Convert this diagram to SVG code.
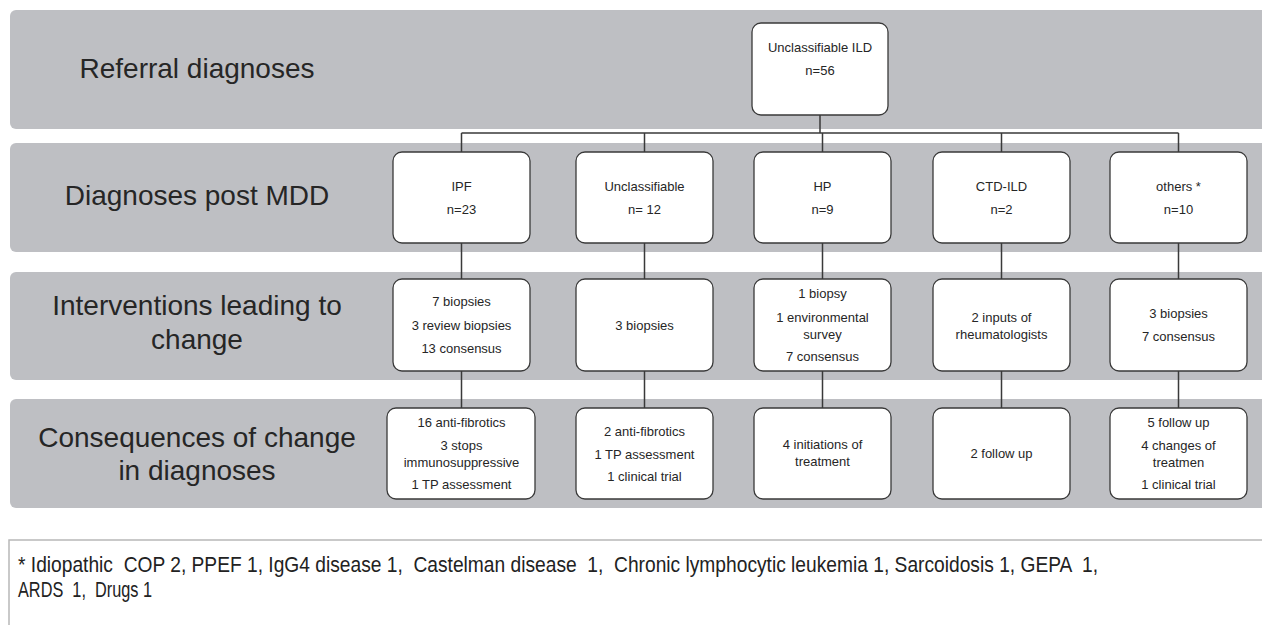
<svg xmlns="http://www.w3.org/2000/svg" width="1262" height="625" viewBox="0 0 1262 625">
<style>
.band{fill:#bebfc3;}
.node{fill:#ffffff;stroke:#3a3a3a;stroke-width:1.3;}
.lbl{font-family:"Liberation Sans",Arial,sans-serif;font-size:28px;fill:#262626;text-anchor:middle;}
.t{font-family:"Liberation Sans",Arial,sans-serif;font-size:13px;fill:#262626;text-anchor:middle;}
.conn{stroke:#3a3a3a;stroke-width:1.5;fill:none;}
.fn{font-family:"Liberation Sans",Arial,sans-serif;font-size:22px;fill:#222;white-space:pre;}
</style>
<rect width="1262" height="625" fill="#ffffff"/>
<g id="bands">
<rect class="band" x="10" y="10" width="1262" height="119" rx="6"/>
<rect class="band" x="10" y="143" width="1262" height="109" rx="6"/>
<rect class="band" x="10" y="272" width="1262" height="108" rx="6"/>
<rect class="band" x="10" y="399" width="1262" height="109" rx="6"/>
</g>
<g id="row-labels">
<text class="lbl" x="197" y="78">Referral diagnoses</text>
<text class="lbl" x="197" y="205">Diagnoses post MDD</text>
<text class="lbl" x="197" y="315">Interventions leading to</text>
<text class="lbl" x="197" y="349">change</text>
<text class="lbl" x="197" y="447">Consequences of change</text>
<text class="lbl" x="197" y="480">in diagnoses</text>
</g>
<g id="connectors">
<path class="conn" d="M820 115V133M461.5 133H1178.5M461.5 133V152M644.5 133V152M822.5 133V152M1001.5 133V152M1178.5 133V152"/>
<path class="conn" d="M461.5 243V279M644.5 243V279M822.5 243V279M1001.5 243V279M1178.5 243V279"/>
<path class="conn" d="M461.5 371V408M644.5 371V408M822.5 371V408M1001.5 371V408M1178.5 371V408"/>
</g>
<g id="n-root"><rect class="node" x="752" y="23" width="136" height="92" rx="9"/>
<text class="t" x="820" y="51.5">Unclassifiable ILD</text><text class="t" x="820" y="74.5">n=56</text></g>
<g id="n-ipf"><rect class="node" x="393" y="152" width="137" height="91" rx="9"/>
<text class="t" x="461.5" y="190.5">IPF</text><text class="t" x="461.5" y="213.5">n=23</text></g>
<g id="n-unclass"><rect class="node" x="576" y="152" width="137" height="91" rx="9"/>
<text class="t" x="644.5" y="190.5">Unclassifiable</text><text class="t" x="644.5" y="213.5">n= 12</text></g>
<g id="n-hp"><rect class="node" x="754" y="152" width="137" height="91" rx="9"/>
<text class="t" x="822.5" y="190.5">HP</text><text class="t" x="822.5" y="213.5">n=9</text></g>
<g id="n-ctd"><rect class="node" x="933" y="152" width="137" height="91" rx="9"/>
<text class="t" x="1001.5" y="190.5">CTD-ILD</text><text class="t" x="1001.5" y="213.5">n=2</text></g>
<g id="n-others"><rect class="node" x="1110" y="152" width="137" height="91" rx="9"/>
<text class="t" x="1178.5" y="190.5">others *</text><text class="t" x="1178.5" y="213.5">n=10</text></g>
<g id="i-ipf"><rect class="node" x="393" y="279" width="137" height="92" rx="9"/>
<text class="t" x="461.5" y="306">7 biopsies</text><text class="t" x="461.5" y="329.5">3 review biopsies</text><text class="t" x="461.5" y="352.5">13 consensus</text></g>
<g id="i-unclass"><rect class="node" x="576" y="279" width="137" height="92" rx="9"/>
<text class="t" x="644.5" y="329.5">3 biopsies</text></g>
<g id="i-hp"><rect class="node" x="754" y="279" width="137" height="92" rx="9"/>
<text class="t" x="822.5" y="298">1 biopsy</text><text class="t" x="822.5" y="321.5">1 environmental</text><text class="t" x="822.5" y="338.5">survey</text><text class="t" x="822.5" y="360.5">7 consensus</text></g>
<g id="i-ctd"><rect class="node" x="933" y="279" width="137" height="92" rx="9"/>
<text class="t" x="1001.5" y="321.5">2 inputs of</text><text class="t" x="1001.5" y="338.5">rheumatologists</text></g>
<g id="i-others"><rect class="node" x="1110" y="279" width="137" height="92" rx="9"/>
<text class="t" x="1178.5" y="317.5">3 biopsies</text><text class="t" x="1178.5" y="340.5">7 consensus</text></g>
<g id="c-ipf"><rect class="node" x="387" y="408" width="148" height="91" rx="9"/>
<text class="t" x="461.5" y="426.5">16 anti-fibrotics</text><text class="t" x="461.5" y="449.5">3 stops</text><text class="t" x="461.5" y="466.5">immunosuppressive</text><text class="t" x="461.5" y="488.5">1 TP assessment</text></g>
<g id="c-unclass"><rect class="node" x="576" y="408" width="137" height="91" rx="9"/>
<text class="t" x="644.5" y="435.5">2 anti-fibrotics</text><text class="t" x="644.5" y="458.5">1 TP assessment</text><text class="t" x="644.5" y="480.5">1 clinical trial</text></g>
<g id="c-hp"><rect class="node" x="754" y="408" width="137" height="91" rx="9"/>
<text class="t" x="822.5" y="448.5">4 initiations of</text><text class="t" x="822.5" y="465.5">treatment</text></g>
<g id="c-ctd"><rect class="node" x="933" y="408" width="137" height="91" rx="9"/>
<text class="t" x="1001.5" y="457.5">2 follow up</text></g>
<g id="c-others"><rect class="node" x="1110" y="408" width="137" height="91" rx="9"/>
<text class="t" x="1178.5" y="426.5">5 follow up</text><text class="t" x="1178.5" y="449.5">4 changes of</text><text class="t" x="1178.5" y="466.5">treatmen</text><text class="t" x="1178.5" y="488.5">1 clinical trial</text></g>
<g id="footnote">
<path d="M9 630V540H1262" fill="none" stroke="#b8b8b8" stroke-width="1.5"/>
<text class="fn" x="18" y="572" textLength="1080" lengthAdjust="spacingAndGlyphs">* Idiopathic  COP 2, PPEF 1, IgG4 disease 1,  Castelman disease  1,  Chronic lymphocytic leukemia 1, Sarcoidosis 1, GEPA  1,</text>
<text class="fn" x="18" y="597" textLength="134" lengthAdjust="spacingAndGlyphs">ARDS  1,  Drugs 1</text>
</g>
</svg>
